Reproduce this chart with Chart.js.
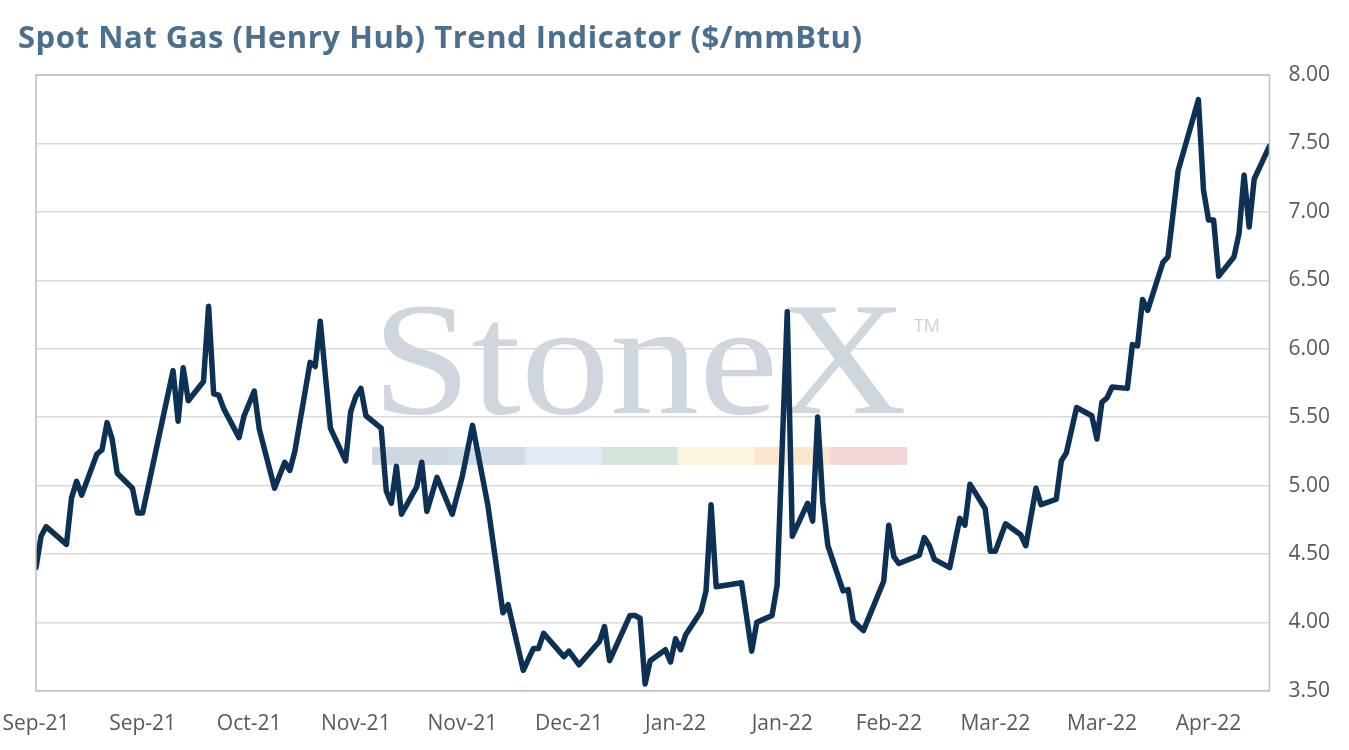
<!DOCTYPE html>
<html>
<head>
<meta charset="utf-8">
<script src="https://cdn.jsdelivr.net/npm/chart.js@4/dist/chart.umd.min.js"></script>
<style>
	body { margin: 0; background: #ffffff; }
	#wrap { position: relative; width: 1349px; height: 750px; }
	#chart-title {
		position: absolute; left: 18px; top: 15px; margin: 0;
		font-family: 'Open Sans', Lato, sans-serif; font-weight: 700; font-size: 31px;
		color: #4b6f8c; letter-spacing: 0.55px;
	}
	#gas-canvas { position: absolute; left: 0; top: 0; }
</style>
</head>
<body>
<div id="wrap">
	<canvas id="gas-canvas" width="1349" height="750" style="width:1349px;height:750px"></canvas>
	<div id="chart-title">Spot Nat Gas (Henry Hub) Trend Indicator ($/mmBtu)</div>
</div>
<script>
// days since 1 Sep 2021 (trading days only where the line turns)
let day_index = [
	0, 1, 2, 6, 7, 8, 9, 12, 13, 14, 15, 16, 19, 20, 21, 27, 28, 29, 30,
	33, 34, 35, 36, 37, 40, 41, 43, 44, 47, 49, 50, 51, 54, 55, 56, 58,
	61, 62, 63, 64, 65, 68, 69, 70, 71, 72, 75, 76, 77, 79, 82, 83, 84, 86,
	89, 92, 93, 96, 98, 99, 100, 104, 105, 107, 111, 112, 113, 117, 118, 119,
	120, 121, 124, 125, 126, 127, 128, 131, 132, 133, 134, 139, 141, 142,
	145, 146, 148, 149, 152, 153, 154, 155, 156, 159, 160, 161, 163, 166,
	167, 168, 169, 170, 174, 175, 176, 177, 180, 182, 183, 184, 187, 188,
	189, 191, 194, 195, 197, 198, 201, 202, 203, 205, 208, 209, 210, 211,
	212, 215, 216, 217, 218, 219, 222, 223, 225, 229, 230, 231, 232, 233,
	236, 237, 238, 239, 240, 243
];
// Henry Hub spot, $/mmBtu
let spot_price = [
	4.40, 4.63, 4.70, 4.57, 4.91, 5.03, 4.93, 5.23, 5.26, 5.46, 5.34, 5.09, 4.98, 4.80, 4.80, 5.84, 5.47, 5.86, 5.62,
	5.76, 6.31, 5.67, 5.66, 5.56, 5.35, 5.51, 5.69, 5.41, 4.98, 5.17, 5.11, 5.25, 5.90, 5.87, 6.20, 5.42,
	5.18, 5.54, 5.65, 5.71, 5.51, 5.42, 4.96, 4.87, 5.14, 4.79, 4.99, 5.17, 4.81, 5.06, 4.79, 4.93, 5.07, 5.44,
	4.86, 4.07, 4.13, 3.65, 3.81, 3.81, 3.92, 3.75, 3.79, 3.69, 3.86, 3.97, 3.72, 4.05, 4.05, 4.03,
	3.55, 3.72, 3.80, 3.71, 3.88, 3.80, 3.91, 4.08, 4.23, 4.86, 4.26, 4.29, 3.79, 4.00,
	4.05, 4.27, 6.27, 4.63, 4.87, 4.74, 5.50, 4.88, 4.56, 4.23, 4.24, 4.01, 3.94, 4.21,
	4.30, 4.71, 4.48, 4.43, 4.49, 4.62, 4.56, 4.46, 4.40, 4.76, 4.71, 5.01, 4.83, 4.52,
	4.52, 4.72, 4.64, 4.56, 4.98, 4.86, 4.90, 5.18, 5.24, 5.57, 5.51, 5.34, 5.61, 5.64,
	5.72, 5.71, 6.03, 6.02, 6.36, 6.28, 6.63, 6.67, 7.30, 7.82, 7.16, 6.94, 6.94, 6.53,
	6.67, 6.84, 7.27, 6.89, 7.24, 7.48
];
// axis labels, one every 21 days
let x_tick_labels = ['Sep-21', 'Sep-21', 'Oct-21', 'Nov-21', 'Nov-21', 'Dec-21', 'Jan-22', 'Jan-22', 'Feb-22', 'Mar-22', 'Mar-22', 'Apr-22'];
let x_tick_step = 21;
let x_axis_end = 243;
let y_axis_min = 3.5;
let y_axis_max = 8;
let y_tick_step = 0.5;

let watermark_colors = ['#cfd7e0', '#d2dce7', '#e0ebf5', '#d5e4da', '#faf7de', '#fbe7cf', '#f4d6d8'];

let line_points = [];
for (var i = 0; i < day_index.length; i++) {
	line_points.push({x: day_index[i], y: spot_price[i]});
};

//no extra label padding, the layout padding already leaves room
let noLabelPadding = function(scale) {
	scale.paddingLeft = 0;
	scale.paddingRight = 0;
	scale.paddingTop = 0;
	scale.paddingBottom = 0;
};

//watermark behind the grid and the line
let watermarkPlugin = {
	id: 'watermark',
	beforeDraw: function(chart) {
		let ctx = chart.ctx;
		let area = chart.chartArea;
		let w = area.right - area.left;
		let h = area.bottom - area.top;
		let left = area.left + w * 0.2725;
		let right = area.left + w * 0.706;
		ctx.save();
		ctx.fillStyle = '#cfd6de';
		ctx.font = '160px "Liberation Serif", "DejaVu Serif", serif';
		ctx.textBaseline = 'alphabetic';
		let txt = 'StoneX';
		let tw = ctx.measureText(txt).width;
		let base_y = area.top + h * 0.549;
		ctx.translate(left, base_y);
		ctx.scale((right - left) / tw, 1);
		ctx.fillText(txt, 0, 0);
		ctx.restore();

		ctx.save();
		ctx.fillStyle = '#c9d0d8';
		ctx.font = '18px "Open Sans", sans-serif';
		ctx.fillText('TM', right + 7, area.top + h * 0.418);
		let bar_w = (right - left) / watermark_colors.length;
		let bar_top = area.top + h * 0.604;
		for (var i = 0; i < watermark_colors.length; i++) {
			ctx.fillStyle = watermark_colors[i];
			ctx.fillRect(left + i * bar_w, bar_top, bar_w + 0.5, 18);
		};
		ctx.restore();
	},
	afterDatasetsDraw: function(chart) {
		//plot area frame
		let ctx = chart.ctx;
		let area = chart.chartArea;
		ctx.save();
		ctx.strokeStyle = '#bfbfbf';
		ctx.lineWidth = 1.5;
		ctx.strokeRect(area.left, area.top, area.right - area.left, area.bottom - area.top);
		ctx.restore();
	}
};

let gas_chart = new Chart(document.getElementById('gas-canvas').getContext('2d'), {
	type: 'line',
	data: {
		datasets: [{
			label: 'Henry Hub',
			data: line_points,
			borderColor: '#0c3155',
			backgroundColor: '#0c3155',
			borderWidth: 5.5,
			borderJoinStyle: 'round',
			borderCapStyle: 'round',
			pointRadius: 0,
			tension: 0
		}]
	},
	options: {
		responsive: false,
		animation: false,
		layout: {
			padding: {top: 75, left: 36, right: 0, bottom: 0}
		},
		plugins: {
			legend: {display: false},
			tooltip: {enabled: false}
		},
		scales: {
			x: {
				type: 'linear',
				min: 0,
				max: x_axis_end,
				afterFit: noLabelPadding,
				grid: {display: false},
				border: {display: false},
				ticks: {
					stepSize: x_tick_step,
					includeBounds: false,
					autoSkip: false,
					maxRotation: 0,
					padding: 13,
					color: '#595959',
					font: {family: '"Open Sans", sans-serif', size: 21},
					callback: function(val) {
						let idx = Math.round(val / x_tick_step);
						return x_tick_labels[idx] !== undefined ? x_tick_labels[idx] : '';
					}
				}
			},
			y: {
				position: 'right',
				min: y_axis_min,
				max: y_axis_max,
				afterFit: noLabelPadding,
				border: {display: false},
				grid: {color: '#d9d9d9', lineWidth: 1.5, drawTicks: false},
				ticks: {
					stepSize: y_tick_step,
					padding: 19,
					color: '#595959',
					font: {family: '"Open Sans", sans-serif', size: 21},
					callback: function(val) { return val.toFixed(2); }
				}
			}
		}
	},
	plugins: [watermarkPlugin]
});
</script>
</body>
</html>
